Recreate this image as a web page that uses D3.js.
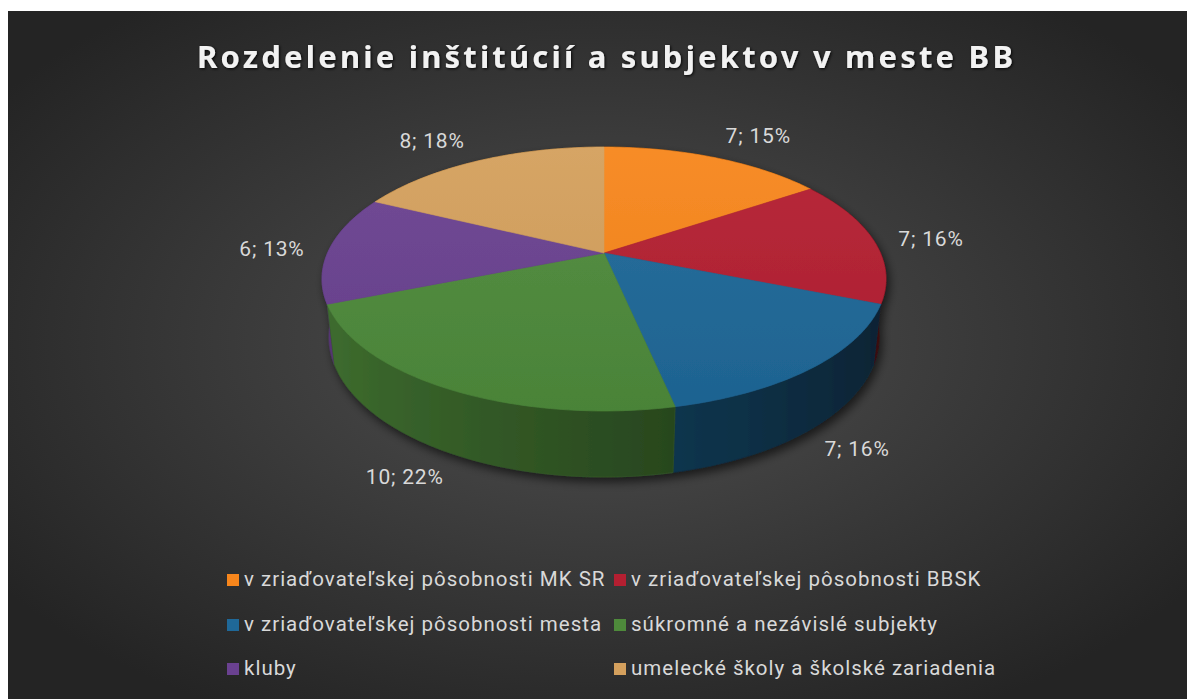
<!DOCTYPE html>
<html>
<head>
<meta charset="utf-8">
<script src="https://cdn.jsdelivr.net/npm/d3@7"></script>
<style>
html, body { margin: 0; padding: 0; background: #fff; }
svg { display: block; }
</style>
</head>
<body>
<svg id="chart" width="1187" height="699"></svg>
<script>
// data
const title = "Rozdelenie inštitúcií a subjektov v meste BB";
const categories = [
    "v zriaďovateľskej pôsobnosti MK SR",
    "v zriaďovateľskej pôsobnosti BBSK",
    "v zriaďovateľskej pôsobnosti mesta",
    "súkromné a nezávislé subjekty",
    "kluby",
    "umelecké školy a školské zariadenia"
];
const values = [7, 7, 7, 10, 6, 8];
const percentLabels = ["15%", "16%", "16%", "22%", "13%", "18%"];
const colors = ["#f7861c", "#b41f31", "#1f6898", "#4e8a3b", "#6a4190", "#d4a05d"];

const W = 1187, H = 699;
const svg = d3.select("#chart");
const defs = svg.append("defs");

// pozadie
const bg = defs.append("radialGradient").attr("id", "bgGrad")
    .attr("cx", "50%").attr("cy", "48%").attr("r", "62%");
bg.append("stop").attr("offset", "0%").attr("stop-color", "#505050");
bg.append("stop").attr("offset", "100%").attr("stop-color", "#242424");

const sh = defs.append("filter").attr("id", "pieShadow")
    .attr("x", "-20%").attr("y", "-20%").attr("width", "140%").attr("height", "150%");
sh.append("feDropShadow").attr("dx", 3).attr("dy", 5).attr("stdDeviation", 5)
    .attr("flood-color", "#000").attr("flood-opacity", 0.6);

const tsh = defs.append("filter").attr("id", "titleShadow")
    .attr("x", "-5%").attr("y", "-30%").attr("width", "110%").attr("height", "160%");
tsh.append("feDropShadow").attr("dx", 1).attr("dy", 1).attr("stdDeviation", 1.4)
    .attr("flood-color", "#000").attr("flood-opacity", 0.9);

const topGrad = defs.append("linearGradient").attr("id", "topGrad")
    .attr("x1", 0).attr("y1", 0).attr("x2", 0).attr("y2", 1);
topGrad.append("stop").attr("offset", "0%").attr("stop-color", "#fff").attr("stop-opacity", 0.05);
topGrad.append("stop").attr("offset", "100%").attr("stop-color", "#000").attr("stop-opacity", 0.05);

svg.append("rect")
    .attr("x", 8).attr("y", 11)
    .attr("width", W - 8).attr("height", H - 11)
    .attr("fill", "url(#bgGrad)");

// nadpis
svg.append("text")
    .attr("x", 197).attr("y", 68)
    .attr("textLength", 816)
    .attr("lengthAdjust", "spacing")
    .attr("font-family", "'Noto Sans', 'DejaVu Sans', sans-serif")
    .attr("font-weight", "bold")
    .attr("font-size", "31px")
    .attr("fill", "#f2f2f2")
    .attr("filter", "url(#titleShadow)")
    .text(title);

// 3D projekcia
const cx = 604, cy = 253;
const F = 1247, D = 4.51, alpha = 27.3 * Math.PI / 180, depth = 0.238;
const ca = Math.cos(alpha), sa = Math.sin(alpha);

function project(phi, r, y) {
    const X = r * Math.sin(phi), Z = -r * Math.cos(phi);
    const pu = y * ca - Z * sa;
    const pf = -y * sa - Z * ca;
    const d = D + pf;
    return [cx + X * F / d, cy - pu * F / d];
}

const pie = d3.pie().sort(null).value(d => d)
    .startAngle(0).endAngle(2 * Math.PI);
const arcs = pie(values);

function arcSteps(a0, a1) {
    const n = Math.max(2, Math.ceil((a1 - a0) / (Math.PI / 180)));
    return d3.range(n + 1).map(i => a0 + (a1 - a0) * i / n);
}

function wallColor(i, phi) {
    const c = d3.hsl(colors[i]);
    c.l = c.l * (0.56 - 0.24 * Math.sin(phi));
    return c.formatHex();
}

const pieG = svg.append("g").attr("filter", "url(#pieShadow)");

// bočné steny: jedna plocha na výsek, tieňovanie cez gradient
const walls = arcs.map((a, i) => ({ a, i, z: -Math.cos((a.startAngle + a.endAngle) / 2) }))
    .sort((p, q) => p.z - q.z);

walls.forEach(w => {
    const steps = arcSteps(w.a.startAngle, w.a.endAngle);
    const x0 = project(steps[0], 1, 0)[0];
    const x1 = project(steps[steps.length - 1], 1, 0)[0];
    const gid = "wall" + w.i;
    const g = defs.append("linearGradient").attr("id", gid)
        .attr("gradientUnits", "userSpaceOnUse")
        .attr("x1", x0).attr("y1", 0).attr("x2", x1).attr("y2", 0);
    const stops = steps.map(p => ({
        o: Math.max(0, Math.min(1, (project(p, 1, 0)[0] - x0) / (x1 - x0))),
        c: wallColor(w.i, p)
    }));
    let last = 0;
    stops.forEach(s => {
        last = Math.max(last, s.o);
        g.append("stop").attr("offset", last).attr("stop-color", s.c);
    });
    const pts = steps.map(p => project(p, 1, 0))
        .concat(steps.slice().reverse().map(p => project(p, 1, -depth)));
    pieG.append("path")
        .attr("d", "M" + pts.map(p => p.join(",")).join("L") + "Z")
        .attr("fill", `url(#${gid})`)
        .attr("stroke", wallColor(w.i, (w.a.startAngle + w.a.endAngle) / 2))
        .attr("stroke-width", 0.5);
});

// vrchné plochy
const topG = pieG.append("g");
topG.selectAll("path")
    .data(arcs)
    .join("path")
    .attr("d", a => {
        const pts = [project(0, 0, 0)].concat(arcSteps(a.startAngle, a.endAngle).map(p => project(p, 1, 0)));
        return "M" + pts.map(p => p.join(",")).join("L") + "Z";
    })
    .attr("fill", (a, i) => colors[i])
    .attr("stroke", (a, i) => colors[i])
    .attr("stroke-width", 0.6);

topG.append("path")
    .attr("d", "M" + arcSteps(0, 2 * Math.PI).map(p => project(p, 1, 0).join(",")).join("L") + "Z")
    .attr("fill", "url(#topGrad)");

// popisy
const gap = 25;
const labelG = svg.append("g")
    .attr("font-family", "Roboto, 'Open Sans', sans-serif")
    .attr("font-size", "21px")
    .attr("letter-spacing", "0.8px")
    .attr("fill", "#d9d9d9");

arcs.forEach((a, i) => {
    const m = (a.startAngle + a.endAngle) / 2;
    const y = -Math.cos(m) > 0 ? -depth : 0;
    const P = project(m, 1, y);
    const C = project(0, 0, y);
    const dx = P[0] - C[0], dy = P[1] - C[1];
    const len = Math.hypot(dx, dy);
    const ux = dx / len, uy = dy / len;
    const t = labelG.append("text")
        .attr("text-anchor", "middle")
        .attr("dy", "0.36em")
        .text(values[i] + "; " + percentLabels[i]);
    const w = t.node().getComputedTextLength();
    const h = 18;
    t.attr("x", P[0] + ux * (w / 2 + gap))
     .attr("y", P[1] + uy * (h / 2 + gap));
});

// legenda
const legendCols = [227, 614];
const legendRows = [586, 631, 675];
const legend = svg.append("g")
    .attr("font-family", "Roboto, 'Open Sans', sans-serif")
    .attr("font-size", "20.5px")
    .attr("letter-spacing", "1px")
    .attr("fill", "#d9d9d9");

const items = legend.selectAll("g")
    .data(categories)
    .join("g")
    .attr("transform", (d, i) => `translate(${legendCols[i % 2]},${legendRows[Math.floor(i / 2)]})`);

items.append("rect")
    .attr("x", 0).attr("y", -12)
    .attr("width", 12).attr("height", 12)
    .attr("fill", (d, i) => colors[i]);

items.append("text")
    .attr("x", 17).attr("y", 0)
    .text(d => d);
</script>
</body>
</html>
